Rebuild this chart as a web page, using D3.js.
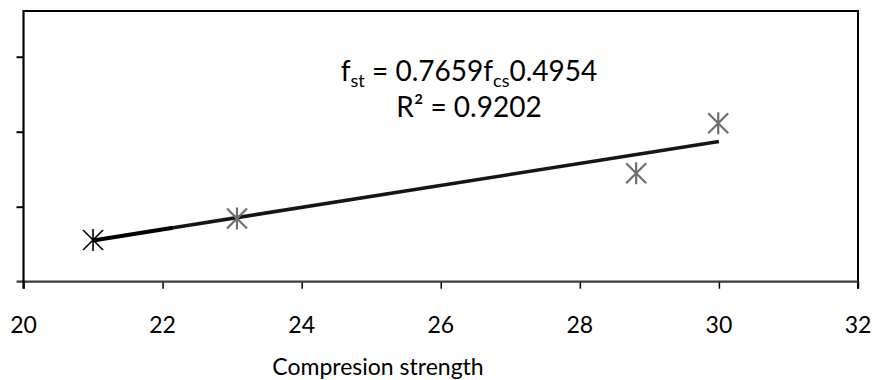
<!DOCTYPE html>
<html>
<head>
<meta charset="utf-8">
<script src="https://cdn.jsdelivr.net/npm/d3@7"></script>
<style>
  body { margin: 0; background: #fff; }
  text { font-family: Lato, "Open Sans", sans-serif; fill: #000; }
</style>
</head>
<body>
<div id="chart"></div>
<script>
// data
var compStrength = [21.0, 23.07, 28.81, 29.99];
var tensStrength = [3.478, 3.622, 3.923, 4.256];
var markerColor = ["#000", "#6e6e6e", "#6e6e6e", "#6e6e6e"];

// trend line (power fit) as drawn
var trendX = [21.0, 22.15, 30.0];
var trendY = [3.475, 3.56, 4.135];

var xTicks = [20, 22, 24, 26, 28, 30, 32];
var yTicks = [3.2, 3.7, 4.2, 4.7];

var eqLine1 = ["f", "st", " = 0.7659f", "cs", "0.4954"];
var eqLine2 = "R\u00b2 = 0.9202";
var xTitle = "Compresion strength";

var W = 873, H = 380;
var plotL = 23.5, plotR = 858, plotT = 11, plotB = 281.7;

var x = d3.scaleLinear().domain([20, 32]).range([plotL, plotR]);
var y = d3.scaleLinear().domain([3.2, 5.005]).range([plotB, plotT]);

var svg = d3.select("#chart").append("svg")
    .attr("width", W)
    .attr("height", H);

// frame top + right
svg.append("path")
    .attr("d", "M" + plotL + "," + plotT + "H" + plotR + "V" + (plotB + 7))
    .attr("fill", "none")
    .attr("stroke", "#000")
    .attr("stroke-width", 2);

// x axis
var xAxis = d3.axisBottom(x).tickValues(xTicks).tickSize(7).tickSizeOuter(0).tickFormat("");
var gx = svg.append("g")
    .attr("transform", "translate(0," + plotB + ")")
    .call(xAxis);
gx.select(".domain").remove();
gx.selectAll(".tick line").attr("stroke", "#000").attr("stroke-width", 1.5);

svg.append("line")
    .attr("x1", plotL - 7).attr("x2", plotR)
    .attr("y1", plotB).attr("y2", plotB)
    .attr("stroke", "#3a3a3a")
    .attr("stroke-width", 2.2);

svg.append("g").selectAll("text")
    .data(xTicks)
    .enter().append("text")
    .attr("x", function(d) { return x(d); })
    .attr("y", 333)
    .attr("text-anchor", "middle")
    .style("font-size", "23px")
    .text(function(d) { return d; });

// y axis (no labels)
var yAxis = d3.axisLeft(y).tickValues(yTicks.slice(1)).tickSize(7).tickSizeOuter(0).tickFormat("");
var gy = svg.append("g")
    .attr("transform", "translate(" + plotL + ",0)")
    .call(yAxis);
gy.select(".domain").remove();
gy.selectAll(".tick line").attr("stroke", "#000").attr("stroke-width", 2);

svg.append("line")
    .attr("x1", plotL).attr("x2", plotL)
    .attr("y1", plotT - 1).attr("y2", plotB + 7)
    .attr("stroke", "#000")
    .attr("stroke-width", 2.2);

// trend line
var trend = trendX.map(function(d, i) { return [d, trendY[i]]; });
var line = d3.line()
    .x(function(d) { return x(d[0]); })
    .y(function(d) { return y(d[1]); });

svg.append("path")
    .attr("d", line(trend.slice(1)))
    .attr("fill", "none")
    .attr("stroke", "#151515")
    .attr("stroke-width", 3.6);
svg.append("path")
    .attr("d", line(trend.slice(0, 2)))
    .attr("fill", "none")
    .attr("stroke", "#000")
    .attr("stroke-width", 4.2);

// star markers
var star = "M0,-11V11M-10,-10L10,10M-10,10L10,-10";
svg.append("g").selectAll("path")
    .data(compStrength)
    .enter().append("path")
    .attr("transform", function(d, i) {
        return "translate(" + x(d) + "," + y(tensStrength[i]) + ")";
    })
    .attr("d", star)
    .attr("fill", "none")
    .attr("stroke", function(d, i) { return markerColor[i]; })
    .attr("stroke-width", function(d, i) { return i === 0 ? 1.6 : 2.2; });

// equation
var eq = svg.append("text")
    .attr("x", 469)
    .attr("y", 81)
    .attr("text-anchor", "middle")
    .style("font-size", "28px");
eqLine1.forEach(function(s, i) {
    var sub = (i === 1 || i === 3);
    eq.append("tspan")
        .attr("dy", sub ? 6 : (i === 0 ? 0 : -6))
        .style("font-size", sub ? "18px" : "28px")
        .text(s);
});

svg.append("text")
    .attr("x", 469)
    .attr("y", 117)
    .attr("text-anchor", "middle")
    .style("font-size", "28px")
    .text(eqLine2);

// axis title
svg.append("text")
    .attr("x", 378)
    .attr("y", 375)
    .attr("text-anchor", "middle")
    .style("font-size", "23px")
    .text(xTitle);
</script>
</body>
</html>
